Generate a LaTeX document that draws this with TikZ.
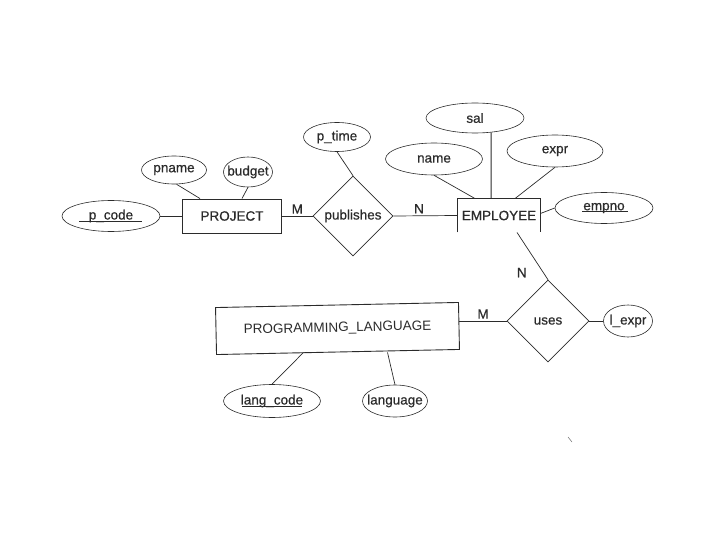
\documentclass[tikz,border=0pt]{standalone}
\usepackage{fontspec}
\setmainfont{Liberation Sans}
\newfontfamily\erfont{Liberation Sans}[FakeBold=0.6]
\usepackage{tikz}
\usetikzlibrary{shapes.geometric, calc}
\definecolor{ER_Ink}{HTML}{2B2B2B}

\begin{document}
\begin{tikzpicture}[x=1pt, y=-1pt, font=\erfont\fontsize{13.5}{16}\selectfont, text=ER_Ink,
  entity/.style={draw=ER_Ink, line width=0.9pt, rectangle, inner sep=0pt},
  attr/.style={draw=ER_Ink, line width=0.6pt, ellipse, inner xsep=-6pt, inner ysep=0pt},
  rel/.style={draw=ER_Ink, line width=0.6pt, diamond, aspect=1, inner sep=0pt},
  link/.style={ER_Ink, line width=0.7pt},
  keyline/.style={ER_Ink, line width=0.6pt}]
\useasboundingbox (0,0) rectangle (720,540);
% --- PROJECT and its attributes ---
\node[entity, minimum width=99pt, minimum height=34pt] (proj) at (232,216) {PROJECT};
\node[attr, minimum width=98pt, minimum height=31pt] (pcode) at (111,216) {p\_code};
\node[attr, minimum width=65pt, minimum height=28pt] (pname) at (174,170) {pname};
\node[attr, minimum width=49pt, minimum height=30pt] (budget) at (248,172) {budget};
\draw[keyline] ($(pcode.base)+(-32,1.5)$) -- ($(pcode.base)+(31,1.5)$);
\draw[link] (pcode.east) -- (proj.west);
\draw[link] (pname.-80) -- ([xshift=-32pt]proj.north);
\draw[link] (budget.south) -- ([xshift=10pt]proj.north);
% --- publishes ---
\node[rel, minimum width=80pt, minimum height=80pt] (pub) at (353,216) {publishes};
\node[attr, minimum width=67pt, minimum height=29pt] (ptime) at (337,137) {p\_time};
\draw[link] (ptime.south) -- (pub.north);
\draw[link] (proj.east) -- node[above, inner sep=2pt] (cardm1) {M} (pub.west);
% --- EMPLOYEE and its attributes ---
\node[entity, draw=none, minimum width=82pt, minimum height=33pt] (emp) at (499,215.5) {EMPLOYEE};
\draw[ER_Ink, line width=0.9pt] (emp.south west) -- (emp.north west) -- (emp.north east) -- (emp.south east);
\node[attr, minimum width=98pt, minimum height=30pt] (sal) at (475,118) {sal};
\node[attr, minimum width=97pt, minimum height=32pt] (name) at (434,159) {name};
\node[attr, minimum width=96pt, minimum height=32pt] (expr) at (555,151) {expr};
\node[attr, minimum width=98pt, minimum height=31pt] (empno) at (604,208) {empno};
\draw[keyline] ($(empno.base)+(-22,1.5)$) -- ($(empno.base)+(24,1.5)$);
\draw[link] (pub.east) -- node[above, pos=0.4, inner sep=2pt] (cardn1) {N} (emp.west);
\draw[link, line width=1pt] (sal.-42) -- ([xshift=-8pt]emp.north);
\draw[link] (name.south) -- ([xshift=-24pt]emp.north);
\draw[link] (expr.south) -- ([xshift=16pt]emp.north);
\draw[link] ([yshift=2pt]emp.east) -- (empno.west);
% --- uses ---
\node[rel, minimum width=82pt, minimum height=82pt] (uses) at (548,321) {uses};
\node[attr, minimum width=49pt, minimum height=32pt] (lexpr) at (628,321) {l\_expr};
\draw[link] ([xshift=18pt]emp.south) -- node[pos=0.85, left=13pt] (cardn2) {N} (uses.north);
\draw[link] (uses.east) -- (lexpr.west);
% --- PROGRAMMING_LANGUAGE and its attributes ---
\node[entity, minimum width=243pt, minimum height=47pt, rotate=1.2, font=\rmfamily\fontsize{13.5}{16}\selectfont]
  (plang) at (337.5,328.5) {PROGRAMMING\_LANGUAGE};
\node[attr, minimum width=97pt, minimum height=33pt] (lcode) at (272,401) {lang\_code};
\node[attr, minimum width=65pt, minimum height=32pt] (lang) at (395,401) {language};
\draw[keyline] ($(lcode.base)+(-30,1.5)$) -- ($(lcode.base)+(30,1.5)$);
\draw[link] (uses.west) -- node[above, inner sep=2pt] (cardm2) {M} (uses.west -| plang.east);
\draw[link] (lcode.north) -- ([xshift=-34.5pt]plang.south);
\draw[link] (lang.north) -- ([xshift=49.5pt]plang.south);
% stray mark
\draw[ER_Ink!60, line width=0.6pt] (568,437) -- (572,442);
\end{tikzpicture}
\end{document}
